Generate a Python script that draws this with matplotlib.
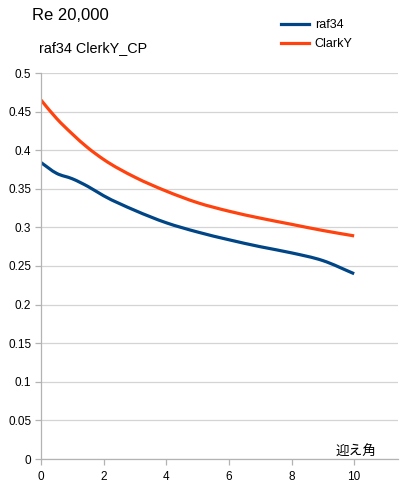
import matplotlib
matplotlib.use("Agg")
import matplotlib.pyplot as plt
from matplotlib.path import Path
from matplotlib.patches import PathPatch
from matplotlib.lines import Line2D

plt.rcParams['font.family'] = ['Liberation Sans', 'Noto Sans CJK JP', 'DejaVu Sans']

angle = [0, 0.5, 1, 1.5, 2, 3, 4, 5, 6, 7, 8, 9, 10]
raf34 = [0.384, 0.370, 0.363, 0.353, 0.341, 0.322, 0.306, 0.294, 0.284, 0.275, 0.267, 0.257, 0.240]
clarky = [0.465, 0.441, 0.421, 0.403, 0.388, 0.365, 0.347, 0.332, 0.321, 0.312, 0.304, 0.296, 0.289]
series_names = ["raf34", "ClarkY"]
colors = ['#004586', '#ff420e']
xticks = [0, 2, 4, 6, 8, 10]
yticks = [0, 0.05, 0.1, 0.15, 0.2, 0.25, 0.3, 0.35, 0.4, 0.45, 0.5]


def smooth_path(xs, ys):
    # cubic Hermite through the data points (non-uniform tangents), as Bezier segments
    n = len(xs)
    h = [xs[i + 1] - xs[i] for i in range(n - 1)]
    d = [(ys[i + 1] - ys[i]) / h[i] for i in range(n - 1)]
    m = [0.0] * n
    m[0] = d[0]
    m[-1] = d[-1]
    for i in range(1, n - 1):
        m[i] = (d[i - 1] * h[i] + d[i] * h[i - 1]) / (h[i - 1] + h[i])
    verts = [(xs[0], ys[0])]
    codes = [Path.MOVETO]
    for i in range(n - 1):
        c1 = (xs[i] + h[i] / 3, ys[i] + m[i] * h[i] / 3)
        c2 = (xs[i + 1] - h[i] / 3, ys[i + 1] - m[i + 1] * h[i] / 3)
        verts += [c1, c2, (xs[i + 1], ys[i + 1])]
        codes += [Path.CURVE4] * 3
    return Path(verts, codes)


fig = plt.figure(figsize=(4, 5), dpi=100)
ax = fig.add_axes([0.1025, 0.082, 0.8925, 0.772])

handles = []
for ys, c, name in zip([raf34, clarky], colors, series_names):
    ax.add_patch(PathPatch(smooth_path(angle, ys), fill=False, edgecolor=c, lw=2.3,
                           capstyle='butt', joinstyle='round'))
    handles.append(Line2D([], [], color=c, lw=2.3, label=name))

ax.set_xlim(0, 11.4)
ax.set_ylim(0, 0.5)
ax.set_xticks(xticks)
ax.set_yticks(yticks)
ax.set_yticklabels([f"{v:g}" for v in yticks])
ax.grid(axis='y', color='#d4d4d4', lw=0.9)
ax.set_axisbelow(True)
for s in ['top', 'right']:
    ax.spines[s].set_visible(False)
for s in ['left', 'bottom']:
    ax.spines[s].set_color('#b3b3b3')
    ax.spines[s].set_linewidth(0.9)
ax.tick_params(axis='both', colors='#b3b3b3', labelcolor='black', labelsize=8.5, length=4, width=0.9)
ax.tick_params(axis='x', pad=5)
ax.tick_params(axis='y', pad=3)

fig.text(0.08, 0.968, "Re 20,000", fontsize=12, ha='left', va='center')
fig.text(0.097, 0.904, "raf34 ClerkY_CP", fontsize=10.4, ha='left', va='center')
ax.text(10.7, 0.009, "迎え角", fontsize=9.8, ha='right', va='center',
        family=['Noto Sans CJK JP', 'DejaVu Sans'])

leg = fig.legend(handles=handles, loc='upper left', bbox_to_anchor=(0.69, 0.972), frameon=False,
                 fontsize=9, handlelength=2.2, handletextpad=0.5, labelspacing=0.55,
                 borderaxespad=0)

fig.savefig("out.png", dpi=100)
